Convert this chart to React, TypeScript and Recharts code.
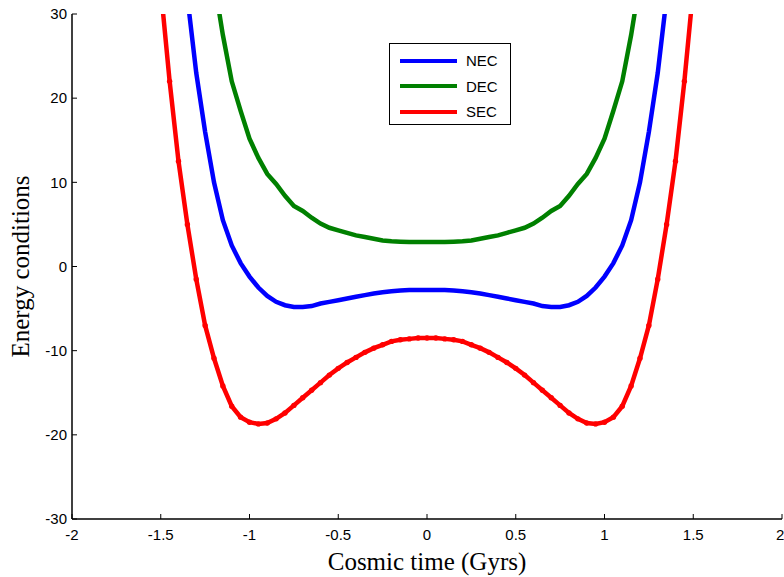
import { LineChart, Line, XAxis, YAxis } from 'recharts';

const time = [
  -1.5, -1.45, -1.4, -1.35, -1.3, -1.25, -1.2, -1.15, -1.1, -1.05, -1.0,
  -0.95, -0.9, -0.85, -0.8, -0.75, -0.7, -0.65, -0.6, -0.55, -0.5, -0.45,
  -0.4, -0.35, -0.3, -0.25, -0.2, -0.15, -0.1, -0.05, 0, 0.05, 0.1, 0.15,
  0.2, 0.25, 0.3, 0.35, 0.4, 0.45, 0.5, 0.55, 0.6, 0.65, 0.7, 0.75, 0.8,
  0.85, 0.9, 0.95, 1.0, 1.05, 1.1, 1.15, 1.2, 1.25, 1.3, 1.35, 1.4, 1.45, 1.5,
];

const nec = [
  null, null, 42, 32, 23, 16, 10, 5.5, 2.5, 0.4, -1.2,
  -2.5, -3.5, -4.2, -4.6, -4.8, -4.8, -4.7, -4.4, -4.2, -4.0, -3.8,
  -3.6, -3.4, -3.2, -3.05, -2.95, -2.85, -2.8, -2.8, -2.8, -2.8, -2.8, -2.85,
  -2.95, -3.05, -3.2, -3.4, -3.6, -3.8, -4.0, -4.2, -4.4, -4.7, -4.8, -4.8, -4.6,
  -4.2, -3.5, -2.5, -1.2, 0.4, 2.5, 5.5, 10, 16, 23, 32, 42, null, null,
];

const dec = [
  null, null, null, null, null, 42, 34, 27.5, 22, 18.5, 15.2,
  12.9, 11, 9.8, 8.4, 7.2, 6.6, 5.8, 5.1, 4.6, 4.3, 4.0,
  3.7, 3.5, 3.3, 3.1, 3.0, 2.95, 2.9, 2.9, 2.9, 2.9, 2.9, 2.95,
  3.0, 3.1, 3.3, 3.5, 3.7, 4.0, 4.3, 4.6, 5.1, 5.8, 6.6, 7.2, 8.4,
  9.8, 11, 12.9, 15.2, 18.5, 22, 27.5, 34, 42, null, null, null, null, null,
];

const sec = [
  33, 22, 12.5, 5, -1.5, -7, -10.9, -14.2, -16.6, -17.9, -18.5,
  -18.7, -18.6, -18.1, -17.4, -16.5, -15.6, -14.7, -13.8, -12.9, -12.1, -11.4,
  -10.8, -10.2, -9.7, -9.3, -8.9, -8.7, -8.6, -8.5, -8.5, -8.5, -8.6, -8.7,
  -8.9, -9.3, -9.7, -10.2, -10.8, -11.4, -12.1, -12.9, -13.8, -14.7, -15.6, -16.5, -17.4,
  -18.1, -18.6, -18.7, -18.5, -17.9, -16.6, -14.2, -10.9, -7, -1.5, 5, 12.5, 22, 33,
];

const xTicks = [-2, -1.5, -1, -0.5, 0, 0.5, 1, 1.5, 2];
const yTicks = [-30, -20, -10, 0, 10, 20, 30];

const data = time.map((t, i) => ({ t, nec: nec[i], dec: dec[i], sec: sec[i] }));

const series = [
  { key: 'nec', name: 'NEC', color: '#0000ff' },
  { key: 'dec', name: 'DEC', color: '#008000' },
  { key: 'sec', name: 'SEC', color: '#ff0000' },
];

const sans = 'Arial, "Liberation Sans", sans-serif';
const serif = '"Liberation Serif", "Times New Roman", serif';
const tickFont = { fontFamily: sans, fontSize: 15, fill: '#000' };

function LegendBox() {
  return (
    <div
      style={{
        position: 'absolute',
        left: 389,
        top: 43,
        width: 122,
        height: 82,
        border: '1px solid #000',
        background: '#fff',
        boxSizing: 'border-box',
        padding: '4px 0 0 10px',
        fontFamily: sans,
        fontSize: 15,
      }}
    >
      {series.map((s) => (
        <div key={s.key} style={{ display: 'flex', alignItems: 'center', height: 25.5 }}>
          <div style={{ width: 57, height: 4, background: s.color, marginRight: 9 }} />
          <span>{s.name}</span>
        </div>
      ))}
    </div>
  );
}

export default function App() {
  return (
    <div style={{ position: 'absolute', left: 0, top: 0, width: 784, height: 577, background: '#fff' }}>
      <LineChart width={784} height={577} data={data} margin={{ top: 14, right: 2, bottom: 0, left: 0 }}>
        <XAxis
          dataKey="t"
          type="number"
          domain={[-2, 2]}
          ticks={xTicks}
          height={58}
          tickSize={-5}
          tickMargin={15}
          tick={tickFont}
          axisLine={{ stroke: '#000', strokeWidth: 1.5 }}
          tickLine={{ stroke: '#000' }}
          label={{
            value: 'Cosmic time (Gyrs)',
            position: 'insideBottom',
            offset: 7,
            style: { fontFamily: serif, fontSize: 25, fill: '#000' },
          }}
        />
        <XAxis
          xAxisId="top"
          dataKey="t"
          type="number"
          orientation="top"
          domain={[-2, 2]}
          ticks={xTicks}
          height={0}
          tickSize={-5}
          tickFormatter={() => ''}
          axisLine={{ stroke: '#000', strokeWidth: 1.5 }}
          tickLine={{ stroke: '#000' }}
        />
        <YAxis
          type="number"
          domain={[-30, 30]}
          ticks={yTicks}
          allowDataOverflow
          width={72}
          tickSize={-5}
          tickMargin={10}
          tick={tickFont}
          axisLine={{ stroke: '#000', strokeWidth: 1.5 }}
          tickLine={{ stroke: '#000' }}
          label={{
            value: 'Energy conditions',
            angle: -90,
            position: 'insideLeft',
            offset: 20,
            style: { textAnchor: 'middle', fontFamily: serif, fontSize: 25, fill: '#000' },
          }}
        />
        <YAxis
          yAxisId="right"
          orientation="right"
          type="number"
          domain={[-30, 30]}
          ticks={yTicks}
          width={0}
          tickSize={-5}
          tickFormatter={() => ''}
          axisLine={{ stroke: '#000', strokeWidth: 1.5 }}
          tickLine={{ stroke: '#000' }}
        />
        <Line
          type="linear"
          dataKey="nec"
          name="NEC"
          stroke="#0000ff"
          strokeWidth={4.5}
          dot={false}
          isAnimationActive={false}
        />
        <Line
          type="linear"
          dataKey="dec"
          name="DEC"
          stroke="#008000"
          strokeWidth={4.5}
          dot={false}
          isAnimationActive={false}
        />
        <Line
          type="linear"
          dataKey="sec"
          name="SEC"
          stroke="#ff0000"
          strokeWidth={4.5}
          dot={{ r: 2.7, fill: '#ff0000', stroke: 'none' }}
          isAnimationActive={false}
        />
      </LineChart>
      <LegendBox />
    </div>
  );
}
